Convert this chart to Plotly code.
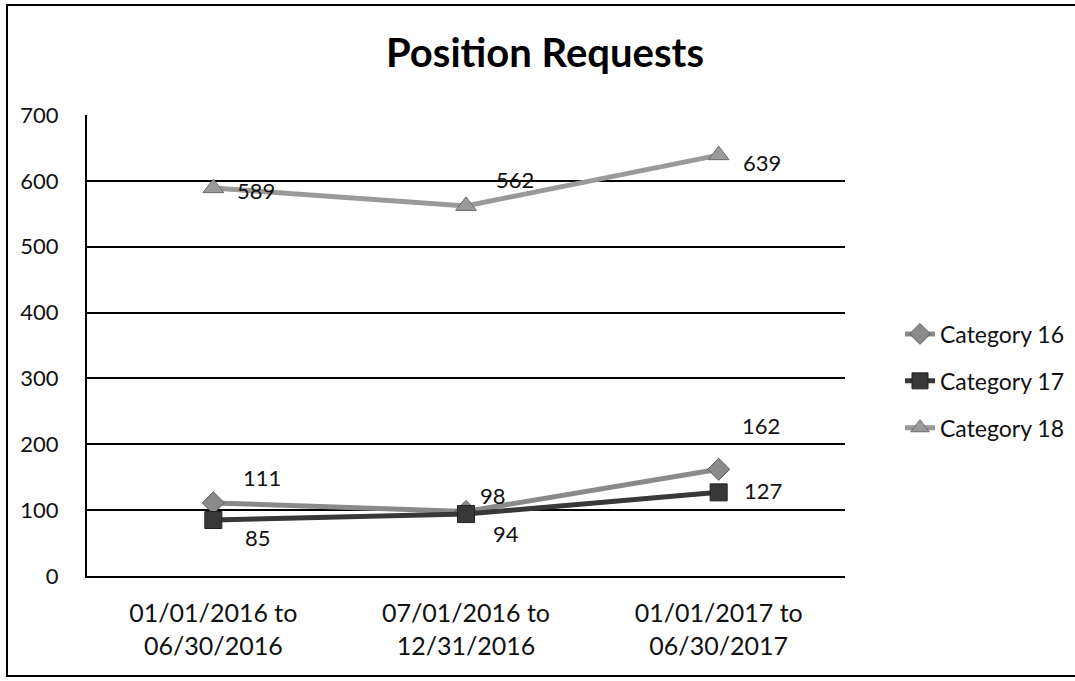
import plotly.graph_objects as go

categories = ["01/01/2016 to<br>06/30/2016", "07/01/2016 to<br>12/31/2016", "01/01/2017 to<br>06/30/2017"]
series_names = ["Category 16", "Category 17", "Category 18"]
cat16 = [111, 98, 162]
cat17 = [85, 94, 127]
cat18 = [589, 562, 639]
y_ticks = [0, 100, 200, 300, 400, 500, 600, 700]

values = [cat16, cat17, cat18]
colors = ["#8a8a8a", "#383838", "#9a9a9a"]
edge_colors = ["#5a5a5a", "#202020", "#6a6a6a"]
symbols = ["diamond", "square", "triangle-up"]
msizes = [17, 17, 18]
# pixel offsets for data labels (dx right, dy down)
label_offsets = [
    [(49, -25), (27, -16), (42, -44)],
    [(45, 17), (40, 19), (44, -2)],
    [(43, 2), (49, -26), (43, 7)],
]

FONT = "Lato"

fig = go.Figure()
for i, (name, vals) in enumerate(zip(series_names, values)):
    fig.add_trace(go.Scatter(
        x=categories, y=vals, name=name, mode="lines+markers",
        legendgroup=name,
        line=dict(color=colors[i], width=5),
        marker=dict(symbol=symbols[i], size=msizes[i], color=colors[i],
                    line=dict(color=edge_colors[i], width=1)),
    ))

annotations = []
for i, vals in enumerate(values):
    for j, v in enumerate(vals):
        dx, dy = label_offsets[i][j]
        annotations.append(dict(
            x=categories[j], y=v, xref="x", yref="y", text=str(v),
            showarrow=False, xshift=dx, yshift=-dy,
            font=dict(family=FONT, size=22, color="#111111"),
        ))

L, R, T, B = 87, 230, 115, 105
W, H = 1075, 681
pw, ph = W - L - R, H - T - B

# outer chart border: left, top and bottom edges visible, right edge cut off
fig.add_shape(type="rect", xref="paper", yref="paper",
              x0=(7 - L) / pw, x1=(1300 - L) / pw,
              y0=(H - B - 676) / ph, y1=(H - B - 5) / ph,
              line=dict(color="#000000", width=2), layer="below")

fig.update_layout(
    width=W, height=H,
    margin=dict(l=L, r=R, t=T, b=B, autoexpand=False),
    paper_bgcolor="white", plot_bgcolor="white",
    title=dict(text="<b>Position Requests</b>", x=(545 - L) / pw, xref="paper",
               xanchor="center", y=1 - 53 / H, yanchor="middle",
               font=dict(family=FONT, size=40, color="#000000")),
    font=dict(family=FONT, color="#111111"),
    showlegend=True,
    legend=dict(x=(1070 - L) / pw, xanchor="right", y=(H - B - 381) / ph, yanchor="middle",
                font=dict(family=FONT, size=23, color="#111111"),
                traceorder="grouped", tracegroupgap=14, bgcolor="rgba(0,0,0,0)"),
    annotations=annotations,
)
fig.update_xaxes(type="category", range=[-0.5, 2.5], showgrid=False,
                 showline=True, linecolor="#000000", linewidth=2,
                 ticks="", tickfont=dict(family=FONT, size=25, color="#111111"),
                 ticklabelstandoff=14)
fig.update_yaxes(range=[0, 700], tickvals=y_ticks, showgrid=True,
                 gridcolor="#000000", gridwidth=1.5, zeroline=False,
                 showline=True, linecolor="#000000", linewidth=2,
                 ticks="", tickfont=dict(family=FONT, size=22, color="#111111"),
                 ticklabelstandoff=22)

fig.write_html(
    "out.html",
    config={"displayModeBar": False},
    post_script="document.body.style.margin='0px';document.body.style.overflow='hidden';",
)
